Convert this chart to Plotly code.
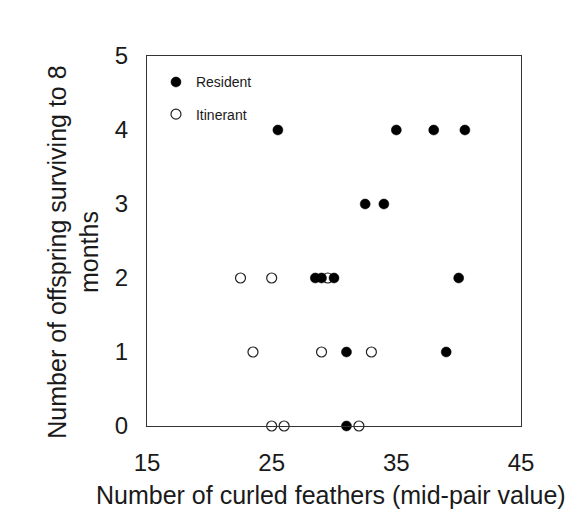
import plotly.graph_objects as go

# Data
resident_x = [25.5, 35, 38, 40.5, 32.5, 34, 28.5, 29, 30, 40, 31, 39, 31]
resident_y = [4, 4, 4, 4, 3, 3, 2, 2, 2, 2, 1, 1, 0]
itinerant_x = [22.5, 25, 29.5, 23.5, 29, 33, 25, 26, 32]
itinerant_y = [2, 2, 2, 1, 1, 1, 0, 0, 0]

x_ticks = [15, 25, 35, 45]
y_ticks = [0, 1, 2, 3, 4, 5]

FONT = "Liberation Sans, Arial, sans-serif"
TXT = "#1a1a1a"

fig = go.Figure()
fig.add_trace(go.Scatter(
    x=itinerant_x, y=itinerant_y, mode="markers", name="Itinerant",
    legendgroup="b", legendrank=2, cliponaxis=False,
    marker=dict(symbol="circle", size=10, color="white",
                line=dict(color="#222222", width=1.2)),
))
fig.add_trace(go.Scatter(
    x=resident_x, y=resident_y, mode="markers", name="Resident",
    legendgroup="a", legendrank=1, cliponaxis=False,
    marker=dict(symbol="circle", size=10, color="#000000",
                line=dict(color="#000000", width=0.5)),
))

# the page body adds an 8px offset, so the figure is sized to compensate
fig.update_layout(
    width=572, height=521,
    margin=dict(l=139, r=59, t=48, b=103),
    paper_bgcolor="white", plot_bgcolor="white",
    font=dict(family=FONT, color=TXT, size=24),
    showlegend=True,
    legend=dict(x=0.024, y=0.972, xanchor="left", yanchor="top",
                font=dict(size=14, color=TXT), bgcolor="rgba(0,0,0,0)",
                tracegroupgap=11, itemwidth=30),
    xaxis=dict(range=[15, 45], tickvals=x_ticks, showgrid=False, zeroline=False,
               showline=True, mirror=True, linecolor="#333333", linewidth=1,
               ticks="", ticklabelstandoff=15, tickfont=dict(size=24, color=TXT)),
    yaxis=dict(range=[0, 5], tickvals=y_ticks, showgrid=False, zeroline=False,
               showline=True, mirror=True, linecolor="#333333", linewidth=1,
               ticks="", ticklabelstandoff=13, tickfont=dict(size=24, color=TXT)),
    annotations=[
        dict(text="Number of curled feathers (mid-pair value)", xref="paper", yref="paper",
             x=0.492, y=-0.186, xanchor="center", yanchor="middle", showarrow=False,
             font=dict(size=25, color=TXT)),
        dict(text="Number of offspring surviving to 8<br>months", xref="paper", yref="paper",
             x=-0.112, y=0.47, xanchor="right", yanchor="middle", showarrow=False,
             textangle=-90, font=dict(size=25, color=TXT)),
    ],
)

fig.write_html("out.html")
